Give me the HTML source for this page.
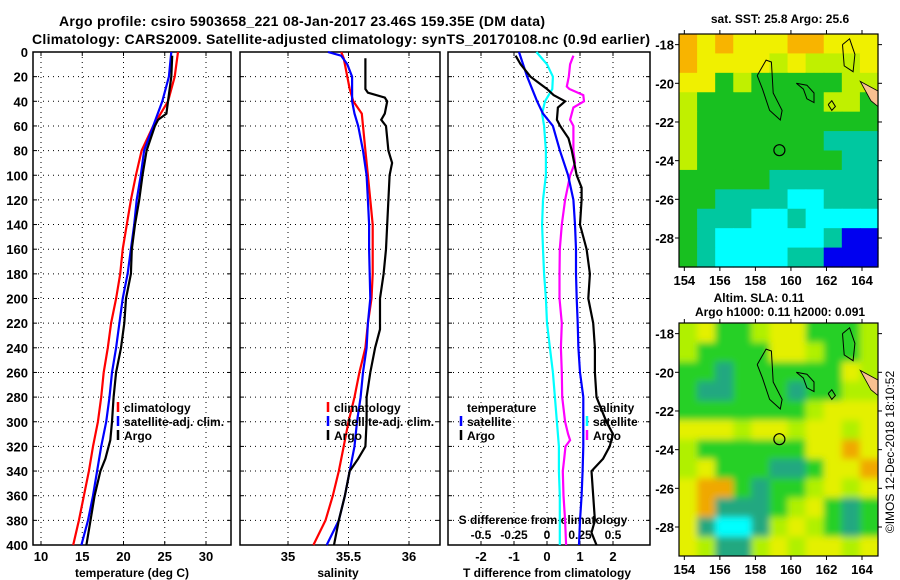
<!DOCTYPE html>
<html><head><meta charset="utf-8"><style>
body{margin:0;background:#fff}
svg{display:block;font-family:"Liberation Sans",sans-serif;font-weight:bold}
</style></head><body>
<svg id="c" width="900" height="580" viewBox="0 0 900 580" xmlns="http://www.w3.org/2000/svg">
<defs>
<filter id="blur" x="-5%" y="-5%" width="110%" height="110%"><feGaussianBlur stdDeviation="3.5"/></filter>
<clipPath id="clipSla"><rect x="679" y="323" width="199" height="233"/></clipPath>
</defs>
<text x="302" y="26" font-size="14" text-anchor="middle" textLength="486">Argo profile: csiro 5903658_221 08-Jan-2017 23.46S 159.35E (DM data)</text>
<text x="341" y="44" font-size="14" text-anchor="middle" textLength="618">Climatology: CARS2009. Satellite-adjusted climatology: synTS_20170108.nc (0.9d earlier)</text>
<g id="g"></g>
<text x="780" y="23" font-size="12" text-anchor="middle">sat. SST: 25.8 Argo: 25.6</text>
<text x="759" y="302" font-size="12" text-anchor="middle">Altim. SLA: 0.11</text>
<text x="780" y="316" font-size="12" text-anchor="middle">Argo h1000: 0.11 h2000: 0.091</text>
<text transform="translate(894,452) rotate(-90)" font-size="12" font-weight="normal" text-anchor="middle">©IMOS 12-Dec-2018 18:10:52</text>
</svg>
<script>
// ---- data ----
const depthT=[0,20,40,60,80,100,120,140,160,180,200,220,240,260,280,300,320,340,360,380,400];
const tempClim=[26.6,26.2,25.4,23.6,22.2,21.5,20.9,20.4,19.9,19.6,19.1,18.5,18.1,17.6,17.3,16.9,16.3,15.8,15.2,14.6,13.9];
const tempSat=[25.8,25.5,24.7,23.6,22.5,22.1,21.6,21.3,20.9,20.5,19.9,19.5,19.1,18.6,18.3,17.9,17.3,16.8,16.3,15.7,14.9];
const depthArgoT=[3,20,40,50,55,60,80,100,120,140,160,180,200,220,240,260,280,300,315,320,330,340,360,380,400];
const tempArgo=[25.9,25.8,25.4,25.2,24.2,23.8,22.8,22.3,21.9,21.4,21.0,20.9,20.3,20.1,19.7,19.1,18.8,18.6,18.4,18.2,17.8,17.2,16.5,16.0,15.5];
const depthSClim=[0,5,20,30,40,50,60,80,100,120,140,160,180,200,220,240,260,280,300,320,340,360,380,400];
const salClim=[35.44,35.46,35.49,35.51,35.54,35.61,35.62,35.64,35.66,35.68,35.70,35.70,35.70,35.69,35.66,35.64,35.59,35.55,35.50,35.46,35.42,35.37,35.31,35.21];
const depthSSat=[0,3,10,20,40,50,60,80,100,120,140,160,200,220,240,260,280,300,320,340,360,380,400];
const salSat=[35.33,35.44,35.49,35.53,35.53,35.55,35.58,35.62,35.65,35.66,35.67,35.67,35.68,35.66,35.65,35.62,35.60,35.57,35.55,35.51,35.47,35.42,35.32];
const depthSArgo=[5,30,33,37,40,50,55,60,80,90,100,120,140,160,180,200,225,240,260,280,300,320,330,340,360,380,400];
const salArgo=[35.64,35.64,35.66,35.80,35.82,35.80,35.77,35.81,35.83,35.86,35.84,35.83,35.82,35.81,35.79,35.76,35.76,35.72,35.68,35.65,35.65,35.64,35.58,35.51,35.47,35.42,35.38];
const depthDT=[0,20,40,50,60,80,100,120,140,160,180,200,220,240,260,280,300,320,340,360,380,400];
const dTsat=[-0.85,-0.6,-0.3,-0.12,0.18,0.39,0.64,0.8,0.85,0.88,0.88,0.9,0.93,0.95,1.0,1.1,1.1,1.1,1.08,1.05,1.0,0.97];
const depthDTA=[3,10,20,30,35,40,45,55,60,70,80,100,110,120,140,150,160,180,200,220,240,260,280,300,310,320,330,340,360,380,390,400];
const dTargo=[-0.95,-0.8,-0.5,0,0.2,0.55,0.33,0.3,0.4,0.65,0.75,0.9,1.05,1.05,1.0,1.1,1.2,1.3,1.25,1.4,1.45,1.45,1.5,1.8,2.0,1.9,1.7,1.35,1.4,1.45,1.35,1.5];
const depthDS=[0,10,20,30,40,50,60,80,100,120,140,160,180,200,220,240,260,280,300,320,340,360,400];
const dSsat=[-0.08,0,0.045,0.04,-0.015,-0.037,-0.022,-0.008,-0.008,-0.03,-0.037,-0.03,-0.022,-0.008,0,0.022,0.045,0.06,0.075,0.09,0.09,0.097,0.097];
const depthDSA=[3,10,20,28,30,35,40,45,55,60,80,90,100,120,140,160,180,200,220,240,260,280,300,310,315,320,330,340,360,380,400];
const dSargo=[0.2,0.175,0.165,0.15,0.17,0.275,0.28,0.2,0.175,0.2,0.2,0.212,0.175,0.137,0.112,0.097,0.095,0.095,0.112,0.105,0.112,0.115,0.137,0.16,0.175,0.14,0.13,0.12,0.125,0.137,0.145];
const depthTicks=[0,20,40,60,80,100,120,140,160,180,200,220,240,260,280,300,320,340,360,380,400];
const tempTicks=[10,15,20,25,30];
const salTicks=[35,35.5,36];
const dTTicks=[-2,-1,0,1,2];
const dSTicks=[-0.5,-0.25,0,0.25,0.5];
const lonTicks=[154,156,158,160,162,164];
const latTicks=[-18,-20,-22,-24,-26,-28];
const sstGrid=["OYOYYYOOYYY","OYYYYLYLLLY","YYGLGGGGGLL","LGGGGGGGLLG","LGGGGGGGGGG","LGGGGGGGTTT","LGGGGGGGGTT","GGGGGTTTTTT","GGTTTTCCTTT","GTTTCCTCCCC","GTCCCCCCTBB","GTCCCCTTBBB"];
const slaGrid=["LYGGLYYGGGL","LGGGGYYLGGL","GGTGGGGGGYL","GTTGGGTGGLL","GGGGGGGLYYY","YYYLYYLYYLY","LGGGGGGYYOY","LYGGGTTGYYO","YOOGTGGLYLY","YOTTTGLYGTG","YTCCTLYLGTG","YLTTLYLYYLY"];

// ---- drawing ----
const NS="http://www.w3.org/2000/svg";
const G=document.getElementById('g');
function el(t,a,p){const e=document.createElementNS(NS,t);for(const k in a)e.setAttribute(k,a[k]);(p||G).appendChild(e);return e;}
function txt(x,y,s,a,size,p){const e=el('text',Object.assign({x:x,y:y,'font-size':size||12},a||{}),p);e.textContent=s;return e;}
const Y0=52,Y1=545;
const yD=d=>Y0+(Y1-Y0)*d/400;
const xT=t=>41+(t-10)*8.25;
const xS=s=>288+(s-35)*121;
const xDT=v=>547+v*33;
const xDS=v=>547+v*132;
const panels=[[33,231],[240,440],[448,650]];
panels.forEach((p,i)=>{
  const g=el('g',{});
  
  
  depthTicks.forEach(d=>{
    if(d>0&&d<400){const l=el('line',{x1:p[0],x2:p[1],y1:yD(d),y2:yD(d),stroke:'#000','stroke-width':1,'stroke-dasharray':'1 4'},g);
    }
    el('line',{x1:p[0],x2:p[0]+4,y1:yD(d),y2:yD(d),stroke:'#000'},g);
    el('line',{x1:p[1],x2:p[1]-4,y1:yD(d),y2:yD(d),stroke:'#000'},g);
  });
  const r=el('rect',{x:p[0],y:Y0,width:p[1]-p[0],height:Y1-Y0,fill:'none',stroke:'#000','stroke-width':1.5},g);
  
});
depthTicks.forEach(d=>{const t=txt(28,yD(d)+5,String(d),{'text-anchor':'end'},13);
  });
function vgrid(xs,fx,p,labels,ly){xs.forEach(v=>{const x=fx(v);
  const l=el('line',{x1:x,x2:x,y1:Y0,y2:Y1,stroke:'#000','stroke-dasharray':'1 4'});
  
  el('line',{x1:x,x2:x,y1:Y0,y2:Y0+4,stroke:'#000'});el('line',{x1:x,x2:x,y1:Y1,y2:Y1-4,stroke:'#000'});
  if(labels){const t=txt(x,ly,String(v),{'text-anchor':'middle'},13);}
});}
vgrid(tempTicks,xT,0,true,561);
vgrid(salTicks,xS,1,true,561);
vgrid(dTTicks,xDT,2,true,561);
dSTicks.forEach(v=>{const t=txt(xDS(v),539,String(v),{'text-anchor':'middle'},12);
  });
let t;
t=txt(132,577,'temperature (deg C)',{'text-anchor':'middle'},12);
t=txt(338,577,'salinity',{'text-anchor':'middle'},12);
t=txt(547,577,'T difference from climatology',{'text-anchor':'middle'},12);
t=txt(543,524,'S difference from climatology',{'text-anchor':'middle'},12);

function line(ds,vs,fx,col,name){
  const pts=ds.map((d,i)=>fx(vs[i]).toFixed(1)+','+yD(d).toFixed(1)).join(' ');
  const l=el('polyline',{points:pts,fill:'none',stroke:col,'stroke-width':2.2});
  
}
line(depthT,tempClim,xT,'#f00','temp-climatology-line');
line(depthT,tempSat,xT,'#00f','temp-satellite-line');
line(depthArgoT,tempArgo,xT,'#000','temp-argo-line');
line(depthSClim,salClim,xS,'#f00','sal-climatology-line');
line(depthSSat,salSat,xS,'#00f','sal-satellite-line');
line(depthSArgo,salArgo,xS,'#000','sal-argo-line');
line(depthDS,dSsat,xDS,'#0ff','s-diff-satellite-line');
line(depthDSA,dSargo,xDS,'#f0f','s-diff-argo-line');
line(depthDT,dTsat,xDT,'#00f','t-diff-satellite-line');
line(depthDTA,dTargo,xDT,'#000','t-diff-argo-line');

function legend(x,y,items,name){items.forEach((it,i)=>{
  if(it[1]){const m=el('line',{x1:x,x2:x,y1:y+i*14-10,y2:y+i*14,stroke:it[1],'stroke-width':2.5});
    }
  const t=txt(x+6,y+i*14,it[0],{},12);});}
legend(118,412,[['climatology','#f00'],['satellite-adj. clim.','#00f'],['Argo','#000']],'legend-temp');
legend(328,412,[['climatology','#f00'],['satellite-adj. clim.','#00f'],['Argo','#000']],'legend-sal');
legend(461,412,[['temperature',null],['satellite','#00f'],['Argo','#000']],'legend-t-diff');
legend(587,412,[['salinity',null],['satellite','#0ff'],['Argo','#f0f']],'legend-s-diff');

// ---- maps ----
const sstCol={O:'#f8b400',Y:'#f0f000',L:'#c0f000',G:'#18c020',T:'#00c8a0',C:'#00ffff',B:'#0000f0'};
const slaCol={O:'#f0a800',Y:'#e4f000',L:'#b0f000',G:'#28d028',T:'#20a880',C:'#00ffff'};
function map(top,grid,cols,name,smooth){
  const L=679,R=878,H=233,latTop=-17.45,latBot=-29.5;
  const fx=lon=>L+(lon-153.7)*(R-L)/(164.9-153.7);
  const fy=lat=>top+(lat-latTop)*H/(latBot-latTop);
  const g=el('g',{});
  const cw=(R-L)/11,ch=H/12;
  let cg=g;
  if(smooth){const outer=el('g',{'clip-path':'url(#clipSla)'},g);cg=el('g',{filter:'url(#blur)'},outer);}
  grid.forEach((row,r)=>[...row].forEach((c,k)=>{
    const ex=smooth?( k===0?-12:0):0, ey=smooth?(r===0?-12:0):0;
    const ew=smooth&&k===10?12:0, eh=smooth&&r===11?12:0;
    el('rect',{x:L+k*cw+ex,y:top+r*ch+ey,width:cw+0.6-ex+ew,height:ch+0.6-ey+eh,fill:cols[c]},cg);}));
  const land=el('polygon',{points:[[163.9,-19.9],[164.9,-20.4],[164.9,-21.2],[164.5,-20.9]].map(p=>fx(p[0])+','+fy(p[1])).join(' '),fill:'#f8c090',stroke:'#000','stroke-width':0.8},g);
  
  const coasts=[[[158.1,-19.6],[158.6,-18.8],[158.9,-18.9],[159.0,-20.5],[159.5,-21.4],[159.4,-21.9],[158.8,-21.4],[158.4,-20.3],[158.1,-19.6]],
    [[160.3,-20.0],[160.9,-20.1],[161.3,-20.5],[161.3,-21.0],[160.9,-20.8],[160.7,-20.3],[160.3,-20.0]],
    [[162.9,-18.0],[163.3,-17.7],[163.6,-18.5],[163.5,-19.4],[163.0,-19.1],[162.9,-18.0]],
    [[162.1,-21.1],[162.3,-20.9],[162.5,-21.2],[162.3,-21.4],[162.1,-21.1]]];
  coasts.forEach(c=>{const p=el('polyline',{points:c.map(p=>fx(p[0]).toFixed(1)+','+fy(p[1]).toFixed(1)).join(' '),fill:'none',stroke:'#000','stroke-width':1},g);
    });
  const ci=el('circle',{cx:fx(159.35),cy:fy(-23.46),r:5.5,fill:'none',stroke:'#000','stroke-width':1.2},g);
  
  el('rect',{x:L,y:top,width:R-L,height:H,fill:'none',stroke:'#000','stroke-width':1.2},g);
  lonTicks.forEach(v=>{el('line',{x1:fx(v),x2:fx(v),y1:top,y2:top-4,stroke:'#000'},g);el('line',{x1:fx(v),x2:fx(v),y1:top+H,y2:top+H+4,stroke:'#000'},g);
    const t=txt(fx(v),top+H+18,String(v),{'text-anchor':'middle'},13,g);});
  latTicks.forEach(v=>{el('line',{x1:L,x2:L-4,y1:fy(v),y2:fy(v),stroke:'#000'},g);el('line',{x1:R,x2:R+4,y1:fy(v),y2:fy(v),stroke:'#000'},g);
    const t=txt(L-5,fy(v)+5,String(v),{'text-anchor':'end'},13,g);});
}
map(34,sstGrid,sstCol,'sst-map',false);
map(323,slaGrid,slaCol,'sla-map',true);
</script>
</body></html>
